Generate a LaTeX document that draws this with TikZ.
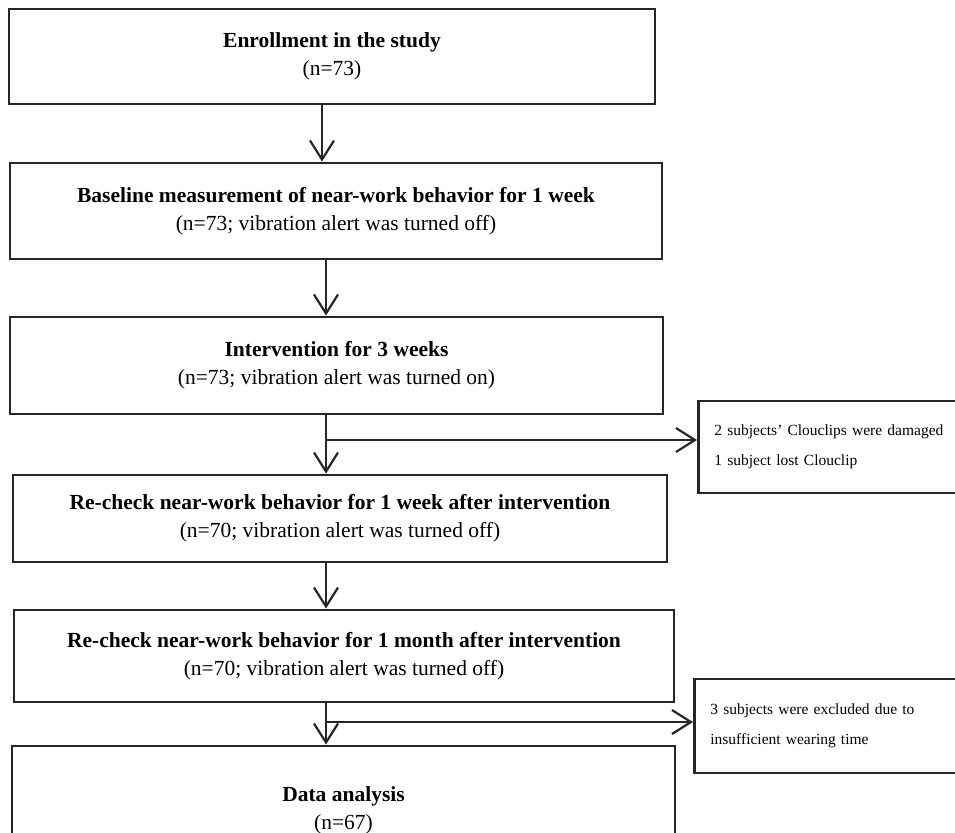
\documentclass[tikz,border=0pt]{standalone}
\usepackage{fontspec}
\setmainfont{Liberation Serif}
\usetikzlibrary{arrows.meta, positioning}

\begin{document}
\begin{tikzpicture}[
  x=1pt, y=-1pt,
  stage/.style={draw=black!85, line width=2.8pt, align=center, inner sep=0pt, font=\fontsize{21.5}{28}\selectfont},
  note/.style={draw=black!85, line width=2.8pt, anchor=west, align=left, inner xsep=16pt, inner ysep=0pt, text width=300pt, font=\fontsize{15.5}{30}\selectfont},
  arr/.style={draw=black!85, line width=2.2pt, -{Straight Barb[length=19pt, width=24pt]}}
]
  \useasboundingbox (0,0) rectangle (955,832);
  \clip (0,0) rectangle (955,832);
  \node[stage, minimum width=646pt, minimum height=95pt] (enroll) at (332,56.5) {\textbf{Enrollment in the study}\\(n=73)};
  \node[stage, minimum width=652pt, minimum height=96pt] (baseline) at (336,211) {\textbf{Baseline measurement of near-work behavior for 1 week}\\(n=73; vibration alert was turned off)};
  \node[stage, minimum width=653pt, minimum height=97pt] (interv) at (336.5,365.5) {\textbf{Intervention for 3 weeks}\\(n=73; vibration alert was turned on)};
  \node[stage, minimum width=654pt, minimum height=87pt] (recheckwk) at (340,518.5) {\textbf{Re-check near-work behavior for 1 week after intervention}\\(n=70; vibration alert was turned off)};
  \node[stage, minimum width=660pt, minimum height=92pt] (recheckmo) at (344,656) {\textbf{Re-check near-work behavior for 1 month after intervention}\\(n=70; vibration alert was turned off)};
  \node[stage, minimum width=663pt, minimum height=128pt] (analysis) at (343.5,810) {\textbf{Data analysis}\\(n=67)};
  \node[note, minimum height=92pt] (lost) at (697,447) {2 subjects’ Clouclips were damaged\\1 subject lost Clouclip};
  \node[note, minimum height=94pt] (excl) at (693,726) {3 subjects were excluded due to\\insufficient wearing time};
  \coordinate (spine) at (326,0);
  \coordinate (split1) at (326,440);
  \coordinate (split2) at (326,722);
  \draw[arr] ([xshift=-10pt]enroll.south) -- ([xshift=-10pt]enroll.south |- baseline.north);
  \draw[arr] (spine |- baseline.south) -- (spine |- interv.north);
  \draw[arr] (spine |- interv.south) -- (spine |- recheckwk.north);
  \draw[arr] (split1) -- (split1 -| lost.west);
  \draw[arr] (spine |- recheckwk.south) -- (spine |- recheckmo.north);
  \draw[arr] (spine |- recheckmo.south) -- (spine |- analysis.north);
  \draw[arr] (split2) -- (split2 -| excl.west);
\end{tikzpicture}
\end{document}
